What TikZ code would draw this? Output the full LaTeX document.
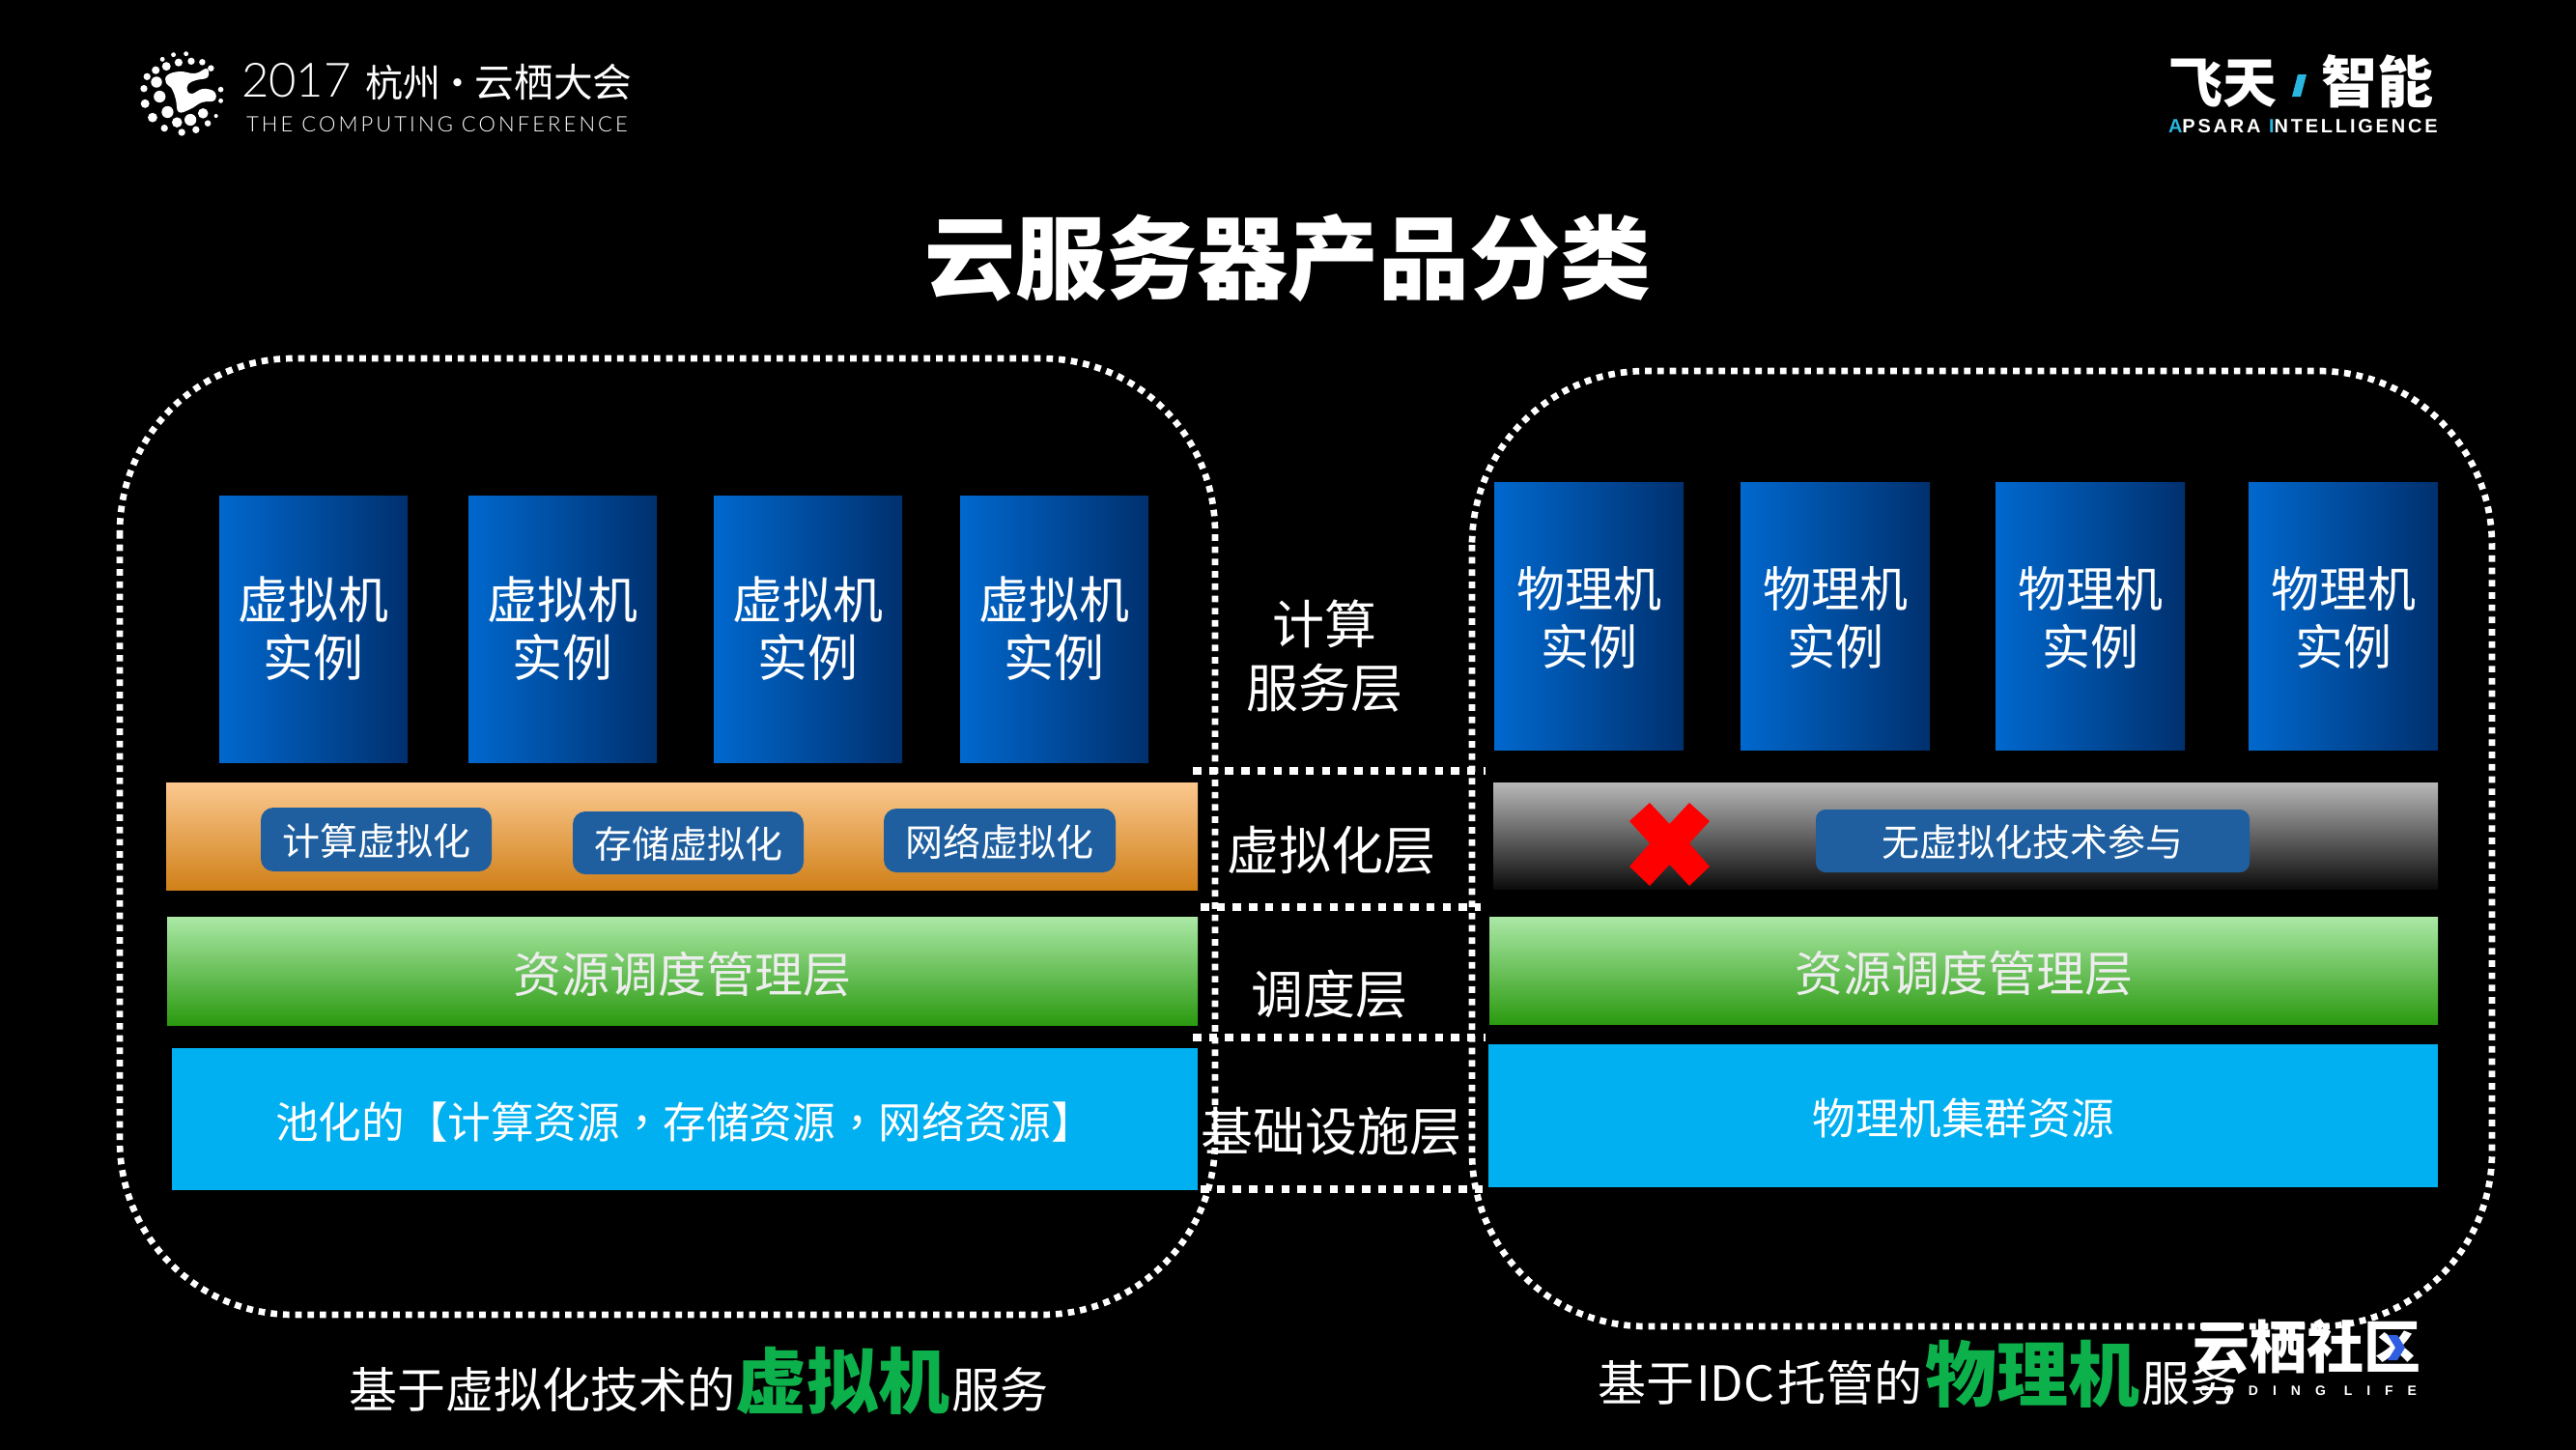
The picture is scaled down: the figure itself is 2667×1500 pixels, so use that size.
\documentclass[tikz,border=0pt]{standalone}
\usepackage{fontspec}
\setmainfont{Noto Sans CJK SC}
\newfontfamily\latolight{Lato}[UprightFont=* Light]
\newfontfamily\arialb{Liberation Sans}[UprightFont=* Bold]
\newfontfamily\cjkblack{Noto Sans CJK SC}[UprightFont=* Black]
\newfontfamily\tcfont{Noto Sans CJK TC}
\definecolor{chipblue}{HTML}{1F5F9F}
\definecolor{skyblue}{HTML}{00B0F0}
\definecolor{vmA}{HTML}{0068CE}
\definecolor{vmB}{HTML}{0058B0}
\definecolor{vmC}{HTML}{00306E}
\definecolor{orgA}{HTML}{FBC88F}
\definecolor{orgB}{HTML}{D08018}
\definecolor{grnA}{HTML}{ABE8A6}
\definecolor{grnB}{HTML}{2B9A10}
\definecolor{gryA}{HTML}{B8B8B8}
\definecolor{gryB}{HTML}{0C0C0C}
\definecolor{hilite}{HTML}{0DB14B}
\definecolor{cyanmark}{HTML}{29B6E0}
\definecolor{chev}{HTML}{2F5FE0}
\newcommand{\fsz}[1]{\fontsize{#1}{#1}\selectfont}
\newcommand{\dn}[1]{\raisebox{-1.5pt}[0.88em][0.12em]{#1}}
\newcommand{\dnn}[1]{\raisebox{-3pt}[0.88em][0.12em]{#1}}
\tikzset{
  every node/.style={text=white,inner sep=0pt,outer sep=0pt},
  layerbox/.style={anchor=north west,draw=none,align=center},
  vmbox/.style={layerbox,left color=vmA,middle color=vmB,right color=vmC,font=\fontsize{52}{60}\selectfont},
  pmbox/.style={layerbox,left color=vmA,middle color=vmB,right color=vmC,font=\fontsize{50}{60}\selectfont},
  orangebar/.style={layerbox,top color=orgA,bottom color=orgB},
  greenbar/.style={layerbox,top color=grnA,bottom color=grnB,font=\fsz{50},text=white!93!black},
  graybar/.style={layerbox,top color=gryA,bottom color=gryB},
  skybar/.style={layerbox,fill=skyblue,font=\fsz{44.6}},
  chipbox/.style={layerbox,fill=chipblue,rounded corners=13pt,font=\fsz{39}},
  sidelabel/.style={font=\fontsize{54}{66}\selectfont,align=center},
  bigdots/.style={draw=white,line width=6.7pt,dash pattern=on 6.7pt off 6pt,rounded corners=180pt},
  smalldots/.style={draw=white,line width=8.5pt,dash pattern=on 8.5pt off 8.2pt},
  captiontext/.style={anchor=base west,font=\fsz{50}},
}
\begin{document}
\begin{tikzpicture}[x=1pt,y=-1pt]
\useasboundingbox (0,0) rectangle (2667,1500);
\fill[black] (-10,-10) rectangle (2677,1510);

% dotted frames
\draw[bigdots] (124,371) rectangle (1258,1361);
\draw[bigdots] (1524,384) rectangle (2580,1373);
\draw[smalldots] (1235,798) -- (1538,798);
\draw[smalldots] (1243,939) -- (1533,939);
\draw[smalldots] (1235,1074) -- (1538,1074);
\draw[smalldots] (1243,1231) -- (1535,1231);

% conference logo
\foreach \X/\Y/\R in {195/110/6,227/107/6,167/124/6,208/134/10,240/130/9,268/133/8,177/146/11,150/158/10,290/152/8,128/178/9,152/195/14,120/215/9,160/240/15,123/262/11,315/218/7,315/253/6,180/288/15,142/305/12,270/292/13,303/300/5,238/312/15,204/320/13,282/323/8,172/338/9,252/343/9,216/351/9}
  \fill[white] ({100+\X/2.45},{20+\Y/3}) circle ({\R/2.45});
\fill[white] plot[smooth cycle,tension=0.7] coordinates {(173,78) (186,74) (202,76) (214,71) (215,80) (203,83) (195,87) (194,94) (199,97) (210,92) (222,95) (222,104) (209,106) (197,113) (185,116) (182,103) (178,92) (172,86)};
\node[anchor=base west] (conf) at (250,100) {{\latolight\fsz{49}2017}\hspace{15pt}{\fsz{39}杭州\makebox[35pt]{·}\fsz{40.7}云栖大会}};
\node[anchor=base west] (confen) at (255,136) {\latolight\addfontfeatures{LetterSpace=14}\fsz{22}THE COMPUTING CONFERENCE};

% apsara logo
\node[anchor=base west] (feitian) at (2245,106) {\fsz{56}\bfseries 飞天};
\fill[cyanmark] (2379,77) -- (2388,77) -- (2382,100) -- (2373,100) -- cycle;
\node[anchor=base west] (zhineng) at (2403,106) {\fsz{58}\bfseries 智能};
\node[anchor=base west] (apsara) at (2245,137) {\arialb\addfontfeatures{LetterSpace=14}\fsz{20}\textcolor{cyanmark}{A}PSARA \textcolor{cyanmark}{I}NTELLIGENCE};

% title
\node (title) at (1333.5,267) {\fsz{94}\bfseries 云服务器产品分类};

% left column
\foreach \n/\x in {1/227,2/485,3/739,4/994}
  \node[vmbox,minimum width=195pt,minimum height=276pt] (vm\n) at (\x,513) {虚拟机\\实例};
\node[orangebar,minimum width=1068pt,minimum height=111pt] (virtL) at (172,810) {};
\node[chipbox,minimum width=239pt,minimum height=66pt] (chipA) at (270,836) {\dn{计算虚拟化}};
\node[chipbox,minimum width=239pt,minimum height=65pt] (chipB) at (593,840) {\dn{存储虚拟化}};
\node[chipbox,minimum width=240pt,minimum height=66pt] (chipC) at (915,837) {\dn{网络虚拟化}};
\node[greenbar,minimum width=1067pt,minimum height=112pt] (schedL) at (173,949) {\dnn{资源调度管理层}};
\node[skybar,minimum width=1062pt,minimum height=147pt] (infraL) at (178,1085) {\dnn{池化的【计算资源{\tcfont ，}存储资源{\tcfont ，}网络资源】}};

% right column
\foreach \n/\x in {1/1547,2/1802,3/2066,4/2328}
  \node[pmbox,minimum width=196pt,minimum height=277pt] (pm\n) at (\x,499) {\dn{物理机}\\\dn{实例}};
\node[graybar,minimum width=978pt,minimum height=110pt] (virtR) at (1546,810) {};
\fill[red] (1708,831) -- (1728.5,853) -- (1749,831) -- (1770,850) -- (1749,873) -- (1770,897) -- (1749,917) -- (1728.5,895) -- (1708,917) -- (1687,897) -- (1708,873) -- (1687,850) -- cycle;
\node[chipbox,rounded corners=10pt,minimum width=449pt,minimum height=65pt] (chipR) at (1880,838) {\dn{无虚拟化技术参与}};
\node[greenbar,minimum width=982pt,minimum height=111pt] (schedR) at (1542,949) {\dnn{资源调度管理层}};
\node[skybar,minimum width=983pt,minimum height=148pt] (infraR) at (1541,1081) {\dnn{物理机集群资源}};

% middle labels
\node[sidelabel] (lblA) at (1371,679) {计算\\服务层};
\node[sidelabel] (lblB) at (1378,880) {虚拟化层};
\node[sidelabel] (lblC) at (1376,1029) {调度层};
\node[sidelabel] (lblD) at (1378,1171) {基础设施层};

% community logo
\node[anchor=base west] (yunqi) at (2270,1416) {\fsz{59}\bfseries 云栖社区};
\fill[chev] (2472,1382) -- (2482,1382) -- (2490,1395) -- (2482,1408) -- (2472,1408) -- (2480,1395) -- cycle;
\node[anchor=base west] (coding) at (2277,1444) {\arialb\addfontfeatures{LetterSpace=107}\fsz{14}CODING LIFE};

% captions
\node[captiontext] (capL) at (361,1457) {基于虚拟化技术的{\fsz{74}\cjkblack\textcolor{hilite}{虚拟机}}\hspace{2pt}服务};
\node[captiontext] (capR) at (1654,1450) {基于\hspace{2pt}IDC\hspace{4pt}托管的\hspace{3pt}{\fsz{74}\cjkblack\textcolor{hilite}{物理机}}\hspace{2pt}服务};
\end{tikzpicture}
\end{document}
